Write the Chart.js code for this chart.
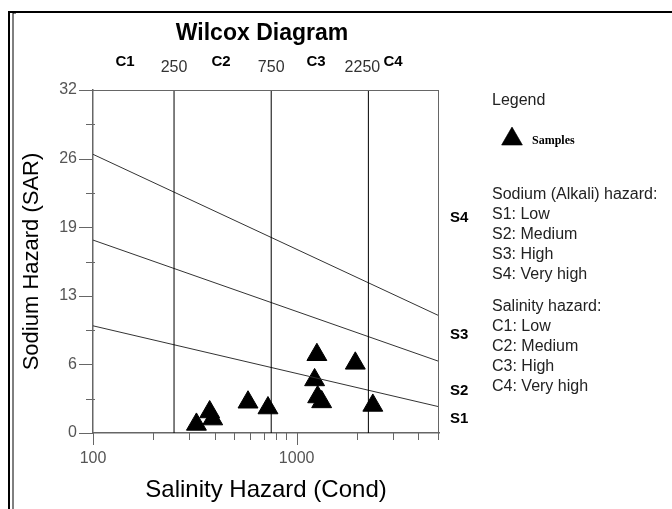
<!DOCTYPE html>
<html>
<head>
<meta charset="utf-8">
<script src="https://cdn.jsdelivr.net/npm/chart.js@4.4.1/dist/chart.umd.min.js"></script>
<style>
  body { margin: 0; background: #fff; }
  canvas { display: block; }
</style>
</head>
<body>
<canvas id="wilcox" width="672" height="509"></canvas>
<script>
// samples (conductivity, SAR)
const sampleEC = [322, 374, 387, 577, 723, 1257, 1225, 1268, 1327, 1941, 2366];
const sampleSAR = [0.8, 1.96, 1.3, 2.87, 2.33, 7.3, 4.95, 3.36, 2.9, 6.5, 2.57];

// class boundaries
const salinityLimits = [250, 750, 2250];
const sodiumStart = [26, 18, 10];     // SAR at EC = 100
const sodiumEnd = [10.94, 6.68, 2.45]; // SAR at EC = 5000
const ecMin = 100;
const ecMax = 5000;

const yTickValues = [0, 6.4, 12.8, 19.2, 25.6, 32];
const yTickLabels = ['0', '6', '13', '19', '26', '32'];
const yMinorTicks = [3.2, 9.6, 16, 22.4, 28.8];
const xMajorTicks = [100, 1000];
const xMinorTicks = [200, 300, 400, 500, 600, 700, 800, 900, 2000, 3000, 4000, 5000];

const salinityClasses = ['C1', 'C2', 'C3', 'C4'];
const sodiumClasses = ['S1', 'S2', 'S3', 'S4'];
const sodiumLabelSAR = [1.3, 3.9, 9.15, 20.1];

const sodiumLegend = ['Sodium (Alkali) hazard:', 'S1: Low', 'S2: Medium', 'S3: High', 'S4: Very high'];
const salinityLegend = ['Salinity hazard:', 'C1: Low', 'C2: Medium', 'C3: High', 'C4: Very high'];

const FONT = 'Arial, "Liberation Sans", sans-serif';
const AXIS = '#666';

const datasets = [];
for (let i = 0; i < salinityLimits.length; i++) {
    datasets.push({
        type: 'line',
        data: [{ x: salinityLimits[i], y: 0 }, { x: salinityLimits[i], y: 32 }],
        borderColor: '#000', borderWidth: 1, pointRadius: 0
    });
}
for (let i = 0; i < sodiumStart.length; i++) {
    datasets.push({
        type: 'line',
        data: [{ x: ecMin, y: sodiumStart[i] }, { x: ecMax, y: sodiumEnd[i] }],
        borderColor: '#333', borderWidth: 1, pointRadius: 0
    });
}
datasets.push({
    type: 'scatter',
    label: 'Samples',
    data: sampleEC.map((ec, i) => ({ x: ec, y: sampleSAR[i] })),
    pointStyle: 'triangle',
    pointRadius: 11.5,
    backgroundColor: '#000',
    borderColor: '#000',
    borderWidth: 1,
    clip: false
});

const decorations = {
    id: 'decorations',
    afterDraw(chart) {
        const ctx = chart.ctx;
        const xs = chart.scales.x;
        const ys = chart.scales.y;
        const a = chart.chartArea;
        ctx.save();

        // outer frame
        ctx.strokeStyle = '#000';
        ctx.lineWidth = 2;
        ctx.beginPath();
        ctx.moveTo(9, 509); ctx.lineTo(9, 12); ctx.lineTo(672, 12);
        ctx.stroke();
        ctx.lineWidth = 1;
        ctx.beginPath();
        ctx.moveTo(13, 509); ctx.lineTo(13, 13); ctx.lineTo(16, 13);
        ctx.stroke();

        // plot box and ticks
        ctx.strokeStyle = AXIS;
        ctx.lineWidth = 1;
        ctx.beginPath();
        ctx.moveTo(a.left, a.top + 0.5); ctx.lineTo(a.right, a.top + 0.5);
        ctx.moveTo(a.right - 0.5, a.top); ctx.lineTo(a.right - 0.5, a.bottom);
        yTickValues.forEach(v => {
            const y = Math.round(ys.getPixelForValue(v)) + 0.5;
            ctx.moveTo(a.left - 14, y); ctx.lineTo(a.left, y);
        });
        yMinorTicks.forEach(v => {
            const y = Math.round(ys.getPixelForValue(v)) + 0.5;
            ctx.moveTo(a.left - 7, y); ctx.lineTo(a.left + 2, y);
        });
        xMajorTicks.forEach(v => {
            const x = Math.round(xs.getPixelForValue(v)) + 0.5;
            ctx.moveTo(x, a.bottom); ctx.lineTo(x, a.bottom + 12);
        });
        xMinorTicks.forEach(v => {
            const x = Math.round(xs.getPixelForValue(v)) - 0.5;
            ctx.moveTo(x, a.bottom); ctx.lineTo(x, a.bottom + 7);
        });
        ctx.stroke();

        // title
        ctx.fillStyle = '#000';
        ctx.textAlign = 'center';
        ctx.textBaseline = 'middle';
        ctx.font = 'bold 23px ' + FONT;
        ctx.fillText('Wilcox Diagram', 262, 34);

        // salinity class labels along the top
        ctx.font = 'bold 15px ' + FONT;
        const classX = [125, 221, 316, 393];
        salinityClasses.forEach((c, i) => ctx.fillText(c, classX[i], 62));
        ctx.font = '16px ' + FONT;
        ctx.fillStyle = '#333';
        salinityLimits.forEach((v, i) => {
            const x = xs.getPixelForValue(v) - (i === 2 ? 6 : 0);
            ctx.fillText(String(v), x, 68);
        });

        // sodium class labels on the right
        ctx.fillStyle = '#000';
        ctx.font = 'bold 15px ' + FONT;
        ctx.textAlign = 'left';
        sodiumClasses.forEach((s, i) => ctx.fillText(s, 450, ys.getPixelForValue(sodiumLabelSAR[i])));

        // legend
        ctx.fillStyle = '#222';
        ctx.font = '16px ' + FONT;
        ctx.fillText('Legend', 492, 101);
        Chart.helpers.drawPoint(ctx, { pointStyle: 'triangle', radius: 12, borderWidth: 1 }, 512, 139);
        ctx.fillStyle = '#000';
        ctx.strokeStyle = '#000';
        ctx.fill();
        ctx.font = 'bold 12px "Liberation Serif", serif';
        ctx.fillText('Samples', 532, 141);
        ctx.font = '16px ' + FONT;
        ctx.fillStyle = '#222';
        sodiumLegend.forEach((t, i) => ctx.fillText(t, 492, 195 + i * 20));
        salinityLegend.forEach((t, i) => ctx.fillText(t, 492, 307 + i * 20));

        ctx.restore();
    }
};

new Chart(document.getElementById('wilcox'), {
    data: { datasets: datasets },
    options: {
        responsive: false,
        animation: false,
        layout: { padding: { top: 90, right: 233, bottom: 0, left: 0 }, autoPadding: false },
        plugins: { legend: { display: false }, tooltip: { enabled: false } },
        scales: {
            x: {
                type: 'logarithmic',
                min: ecMin,
                max: ecMax,
                afterFit: s => { s.height = 76; },
                grid: { display: false, drawTicks: false },
                border: { display: true, color: AXIS, width: 1.5 },
                ticks: {
                    autoSkip: false, maxRotation: 0, padding: 16,
                    color: '#555', font: { family: FONT, size: 16 },
                    callback: v => (xMajorTicks.includes(v) ? String(v) : '')
                },
                title: {
                    display: true, text: 'Salinity Hazard (Cond)', color: '#000',
                    font: { family: FONT, size: 24 }, padding: { top: 0, bottom: 4 }
                }
            },
            y: {
                type: 'linear',
                min: 0,
                max: 32,
                afterFit: s => { s.width = 93; },
                afterBuildTicks: s => { s.ticks = yTickValues.map(v => ({ value: v })); },
                grid: { display: false, drawTicks: false },
                border: { display: true, color: AXIS, width: 1.5 },
                ticks: {
                    padding: 16, color: '#555', font: { family: FONT, size: 16 },
                    callback: v => yTickLabels[yTickValues.indexOf(v)]
                },
                title: {
                    display: true, text: 'Sodium Hazard (SAR)', color: '#000',
                    font: { family: FONT, size: 22 }, padding: { top: 19, bottom: 0 }
                }
            }
        }
    },
    plugins: [decorations]
});
</script>
</body>
</html>
